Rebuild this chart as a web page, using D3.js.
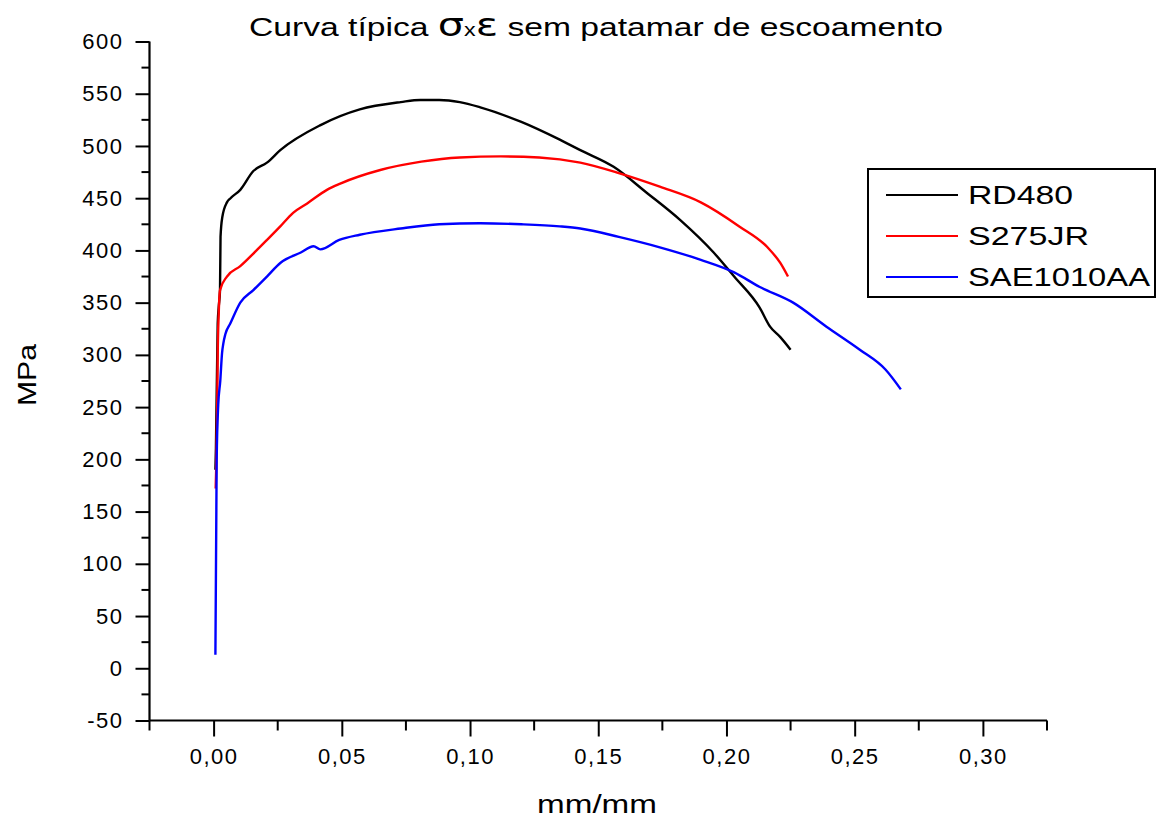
<!DOCTYPE html>
<html><head><meta charset="utf-8">
<script src="https://cdn.jsdelivr.net/npm/d3@7"></script>
<style>
html,body{margin:0;padding:0;background:#fff;}
text{font-family:"Liberation Sans",Arial,sans-serif;fill:#000;}
</style></head>
<body><svg id="chart" width="1162" height="821"></svg>
<script>
// ---- data (strain mm/mm, stress MPa) ----
const seriesNames = ["RD480", "S275JR", "SAE1010AA"];
const seriesColors = ["#000000", "#ff0000", "#0000ff"];

const rd480Strain = [0.0007,0.0009,0.0016,0.0020,0.0025,0.0027,0.0034,0.0052,0.0066,0.0104,0.0155,0.0208,0.026,0.0417,0.057,0.073,0.0806,0.088,0.096,0.104,0.12,0.135,0.143,0.156,0.169,0.182,0.195,0.203,0.213,0.217,0.221,0.225];
const rd480Stress = [190,210,330,346,362,413,432,446,450,458,476,484,496,520,535,542,544,544,542,537,523,506,496,480,455,429,398,375,345,327,317,305];

const s275Strain = [0.0008,0.0010,0.0014,0.0016,0.0020,0.0025,0.0052,0.0104,0.0155,0.0208,0.026,0.031,0.0365,0.0442,0.0494,0.065,0.081,0.096,0.112,0.127,0.143,0.158,0.174,0.19,0.205,0.216,0.221,0.224];
const s275Stress = [172,190,252,300,340,362,375,385,397,410,423,436,445,458,464,477,485,489,490,489,484,474,461,446,423,403,388,375];

const saeStrain = [0.0007,0.0012,0.0018,0.0026,0.0033,0.0038,0.0046,0.0065,0.0104,0.0155,0.0208,0.026,0.034,0.039,0.0416,0.049,0.057,0.073,0.088,0.104,0.12,0.135,0.143,0.158,0.174,0.19,0.203,0.213,0.226,0.239,0.252,0.262,0.268];
const saeStress = [13,200,252,275,302,311,320,330,350,362,375,388,398,404,401,410,415,421,425,426,425,423,421,413,403,391,379,365,350,327,305,286,267];

const xTicks = [0.00,0.05,0.10,0.15,0.20,0.25,0.30];
const yTicks = [-50,0,50,100,150,200,250,300,350,400,450,500,550,600];

const titleMain = "Curva típica ";
const titleRest = " sem patamar de escoamento";
const xLabel = "mm/mm";
const yLabel = "MPa";

// ---- chart ----
const svg = d3.select("#chart");
const L = 149.5, R = 1047, T = 41.5, B = 720.5;
const x = d3.scaleLinear().domain([-0.025, 0.325]).range([L, R]);
const y = d3.scaleLinear().domain([-50, 600]).range([B, T]);
const fmt = d => d3.format(".2f")(d).replace(".", ",");

// curves
const series = [
  {strain: rd480Strain, stress: rd480Stress},
  {strain: s275Strain, stress: s275Stress},
  {strain: saeStrain, stress: saeStress}
];
const line = d3.line().curve(d3.curveMonotoneX).x(d => x(d[0])).y(d => y(d[1]));
[0, 1, 2].forEach(i => {
  const pts = series[i].strain.map((s, k) => [s, series[i].stress[k]]);
  svg.append("path").datum(pts).attr("d", line)
    .attr("fill", "none").attr("stroke", seriesColors[i])
    .attr("stroke-width", 2.4).attr("stroke-linejoin", "round");
});

// y axis
const yMinor = d3.range(-25, 600, 50);
const gy = svg.append("g").attr("transform", `translate(${L},0)`);
gy.call(d3.axisLeft(y).tickValues(yTicks).tickSize(14).tickPadding(12).tickFormat(d => d));
gy.selectAll(".tick text").attr("font-size", 22).attr("letter-spacing", 1.5)
  .attr("font-family", "Liberation Sans, Arial, sans-serif");
gy.selectAll(".tick line").attr("stroke-width", 2);
gy.select(".domain").attr("stroke-width", 2.2).attr("d", `M0,${T}V${B}`);
gy.selectAll(".minor").data(yMinor).enter().append("line")
  .attr("x1", 0).attr("x2", -8).attr("y1", d => y(d)).attr("y2", d => y(d))
  .attr("stroke", "#000").attr("stroke-width", 2);

// x axis
const xMinor = d3.range(-0.025, 0.33, 0.05);
const gx = svg.append("g").attr("transform", `translate(0,${B})`);
gx.call(d3.axisBottom(x).tickValues(xTicks).tickSize(16).tickPadding(12).tickFormat(fmt));
gx.selectAll(".tick text").attr("font-size", 22).attr("letter-spacing", 1.5)
  .attr("font-family", "Liberation Sans, Arial, sans-serif");
gx.selectAll(".tick line").attr("stroke-width", 2);
gx.select(".domain").attr("stroke-width", 2.2).attr("d", `M${L},0H${R}`);
gx.selectAll(".minor").data(xMinor).enter().append("line")
  .attr("y1", 0).attr("y2", 10).attr("x1", d => x(d)).attr("x2", d => x(d))
  .attr("stroke", "#000").attr("stroke-width", 2);

// title
const title = svg.append("text").attr("x", 596).attr("y", 36)
  .attr("text-anchor", "middle").attr("font-size", 26)
  .attr("textLength", 694).attr("lengthAdjust", "spacingAndGlyphs");
title.append("tspan").text(titleMain);
title.append("tspan").attr("font-size", 32).attr("font-family", "DejaVu Sans").text("σ");
title.append("tspan").attr("font-size", 18).text("x");
title.append("tspan").attr("font-size", 32).attr("font-family", "DejaVu Sans").text("ε");
title.append("tspan").text(titleRest);

// axis labels
svg.append("text").attr("x", 597).attr("y", 813).attr("text-anchor", "middle")
  .attr("font-size", 26).attr("textLength", 120).attr("lengthAdjust", "spacingAndGlyphs").text(xLabel);
svg.append("text").attr("transform", "translate(36,375) rotate(-90)").attr("text-anchor", "middle")
  .attr("font-size", 26).attr("textLength", 62).attr("lengthAdjust", "spacingAndGlyphs").text(yLabel);

// legend
const lg = svg.append("g");
lg.append("rect").attr("x", 868).attr("y", 169).attr("width", 287).attr("height", 128)
  .attr("fill", "#fff").attr("stroke", "#000").attr("stroke-width", 2);
const legY = [195, 236, 277];
const legW = [105, 121, 182];
seriesNames.forEach((n, i) => {
  lg.append("line").attr("x1", 886).attr("x2", 958).attr("y1", legY[i]).attr("y2", legY[i])
    .attr("stroke", seriesColors[i]).attr("stroke-width", 2);
  lg.append("text").attr("x", 968).attr("y", legY[i] + 9).attr("font-size", 25)
    .attr("textLength", legW[i]).attr("lengthAdjust", "spacingAndGlyphs").text(n);
});
</script></body></html>
